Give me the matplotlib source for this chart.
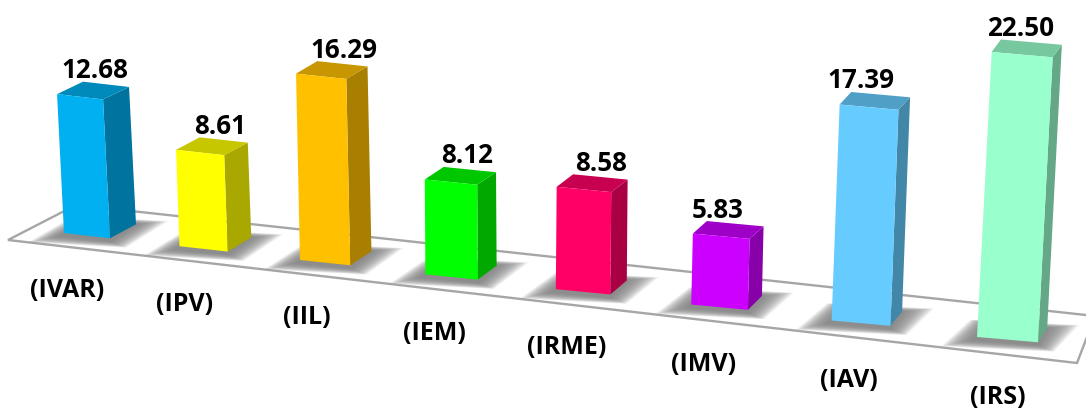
import matplotlib
matplotlib.use('Agg')
import matplotlib.pyplot as plt
from matplotlib.patches import Polygon
from matplotlib.colors import to_rgb

names = ['(IVAR)', '(IPV)', '(IIL)', '(IEM)', '(IRME)', '(IMV)', '(IAV)', '(IRS)']
values = [12.68, 8.61, 16.29, 8.12, 8.58, 5.83, 17.39, 22.50]
colors = ['#00B0F0', '#FFFF00', '#FFC000', '#00FF00', '#FF0066', '#CC00FF', '#66CCFF', '#99FFCC']

# layout of the fake perspective, in pixels
name_x = [67, 185, 307, 434, 567, 704, 849, 998]
name_y = [291, 305, 318, 334, 348, 365, 381, 398]
value_dx = [15, 20, 23, 16, 17, -4, -8, -2]
floor = [(8, 241), (76, 206), (1095, 317), (1077, 364)]


def darker(c, f):
    return tuple(v * f for v in to_rgb(c))


fig = plt.figure(figsize=(10.86, 4.10), dpi=100)
ax = fig.add_axes([0, 0, 1, 1])
ax.set_xlim(0, 1086)
ax.set_ylim(410, 0)
ax.axis('off')

plt.rcParams['font.family'] = ['Open Sans', 'DejaVu Sans']

floor_patch = Polygon(floor, closed=True, fc='white', ec='#A6A6A6', lw=1.7, zorder=1)
ax.add_patch(floor_patch)

for i, (val, col) in enumerate(zip(values, colors)):
    # front face bottom left, width and scale all grow towards the viewer
    x0 = 64 + 113 * i + 2.49 * i ** 2
    y0 = 234 + 12.96 * i + 0.27 * i ** 2
    w = 46 + 2.14 * i
    drop = 5.3
    h = val * (10.95 + 0.245 * i)
    lean = (-0.05 + 0.0145 * i) * h
    dx = 26 - 2.4 * i
    dy_bot = -14
    dy_top = -12.5

    # soft shadow on the floor, stacked see-through layers
    n = 26
    for k in range(n):
        e = 32 * (1 - k / n)
        shadow = Polygon([(x0 - e - 4, y0 + 3 + e * 0.2),
                          (x0 + w + e * 0.5, y0 + drop + 3 + e * 0.2),
                          (x0 + w + dx + e, y0 + drop + dy_bot - e * 0.1),
                          (x0 + dx - e * 0.5, y0 + dy_bot - e * 0.1)],
                         closed=True, fc='#808080', ec='none', alpha=0.07, zorder=2)
        ax.add_patch(shadow)
        shadow.set_clip_path(floor_patch)

    fl = (x0, y0)
    fr = (x0 + w, y0 + drop)
    tl = (x0 + lean, y0 - h)
    tr = (x0 + w + lean, y0 + drop - h)
    br_back = (fr[0] + dx, fr[1] + dy_bot)
    tr_back = (tr[0] + dx, tr[1] + dy_top)
    tl_back = (tl[0] + dx, tl[1] + dy_top)

    ax.add_patch(Polygon([fr, br_back, tr_back, tr], closed=True, fc=darker(col, 0.66), ec='none', zorder=3))
    ax.add_patch(Polygon([tl, tr, tr_back, tl_back], closed=True, fc=darker(col, 0.78), ec='none', zorder=3))
    ax.add_patch(Polygon([fl, fr, tr, tl], closed=True, fc=col, ec='none', zorder=4))

    ax.text((tl[0] + tr[0]) / 2 + value_dx[i], tl_back[1] - 12, '%.2f' % val, ha='center', va='center',
            fontsize=18.7, fontweight='bold', color='black', zorder=5)
    ax.text(name_x[i], name_y[i], names[i], ha='center', va='center',
            fontsize=18, fontweight='bold', color='black', zorder=5)

fig.savefig('out.png', dpi=100)
